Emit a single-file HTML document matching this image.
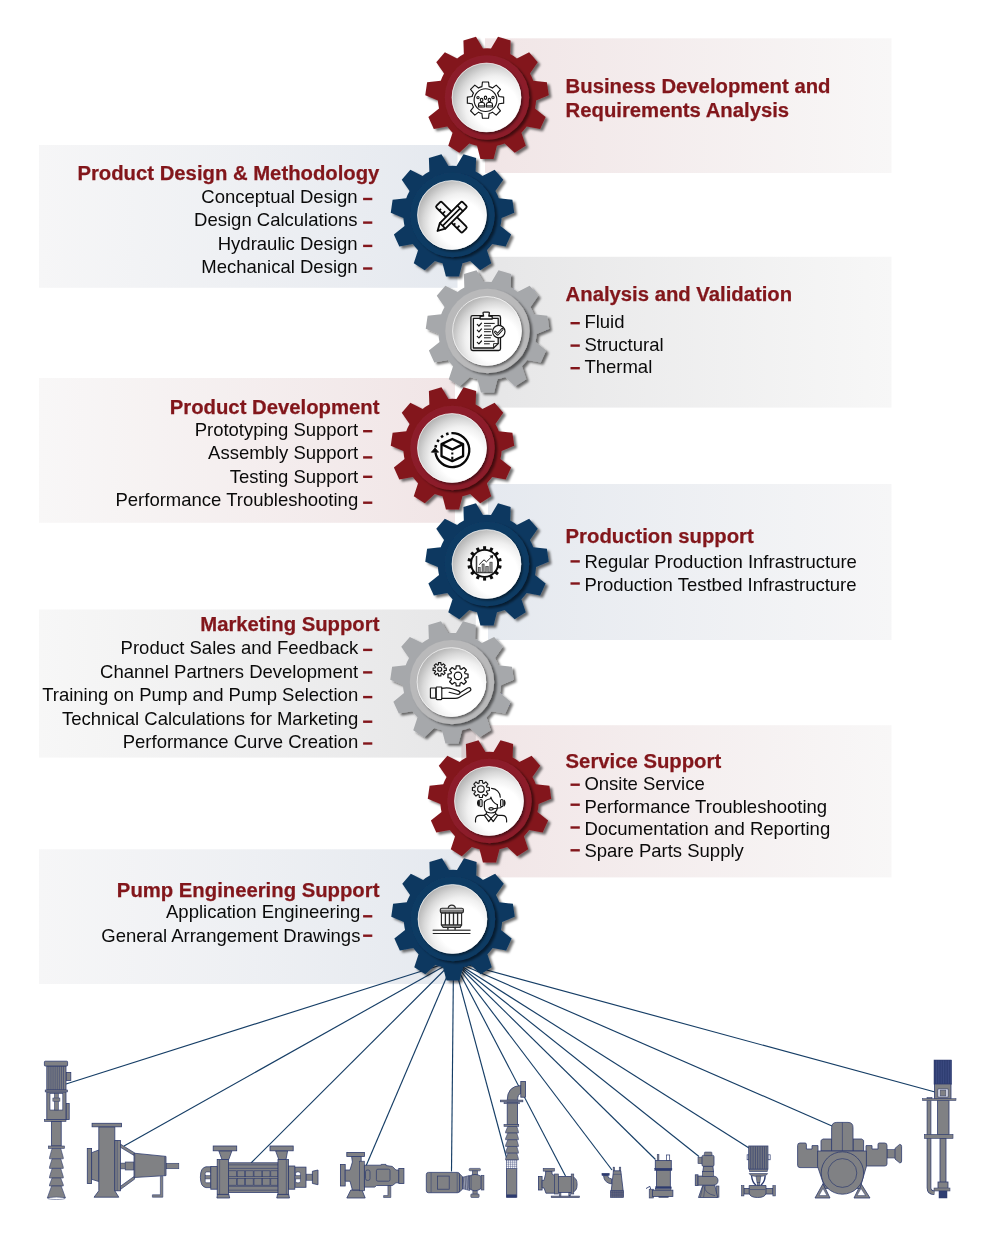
<!DOCTYPE html>
<html lang="en"><head><meta charset="utf-8"><title>Pump Engineering Services</title>
<style>
html,body{margin:0;padding:0;background:#fff;}
body{width:1000px;height:1256px;overflow:hidden;font-family:"Liberation Sans",sans-serif;}
svg{display:block}
.t{font-family:"Liberation Sans",sans-serif;font-weight:bold;font-size:20.3px;fill:#82161b;stroke:#82161b;stroke-width:0.25px}
.i{font-family:"Liberation Sans",sans-serif;font-size:18.5px;fill:#0a0a0a}
.d{fill:#82161b}
</style></head><body>
<svg width="1000" height="1256" viewBox="0 0 1000 1256">
<defs>

<linearGradient id="gRr" x1="0" x2="1" y1="0" y2="0"><stop offset="0" stop-color="#f1e5e6"/><stop offset="1" stop-color="#f8f7f7"/></linearGradient>
<linearGradient id="gLr" x1="0" x2="1" y1="0" y2="0"><stop offset="0" stop-color="#f8f7f7"/><stop offset="1" stop-color="#f1e5e6"/></linearGradient>
<linearGradient id="gRb" x1="0" x2="1" y1="0" y2="0"><stop offset="0" stop-color="#e5e9ef"/><stop offset="1" stop-color="#f6f6f7"/></linearGradient>
<linearGradient id="gLb" x1="0" x2="1" y1="0" y2="0"><stop offset="0" stop-color="#f6f6f7"/><stop offset="1" stop-color="#e5e9ef"/></linearGradient>
<linearGradient id="gRg" x1="0" x2="1" y1="0" y2="0"><stop offset="0" stop-color="#e6e6e7"/><stop offset="1" stop-color="#f7f7f7"/></linearGradient>
<linearGradient id="gLg" x1="0" x2="1" y1="0" y2="0"><stop offset="0" stop-color="#f7f7f7"/><stop offset="1" stop-color="#e6e6e7"/></linearGradient>
<radialGradient id="disc" cx="0.63" cy="0.63" r="0.8" fx="0.63" fy="0.63">
<stop offset="0" stop-color="#ffffff"/><stop offset="0.40" stop-color="#ffffff"/><stop offset="0.55" stop-color="#f0f0f0"/><stop offset="0.68" stop-color="#d8d8d8"/><stop offset="0.8" stop-color="#bcbcbc"/><stop offset="0.9" stop-color="#a9a9a9"/></radialGradient>
<filter id="sh" x="-20%" y="-20%" width="150%" height="150%"><feDropShadow dx="2.7" dy="2.3" stdDeviation="1.0" flood-color="#000" flood-opacity="0.55"/></filter>
<filter id="sh2" x="-20%" y="-20%" width="150%" height="150%"><feDropShadow dx="2.7" dy="2.0" stdDeviation="0.8" flood-color="#000" flood-opacity="0.5"/></filter>
<filter id="sh3" x="-20%" y="-20%" width="150%" height="150%"><feDropShadow dx="1.6" dy="1.8" stdDeviation="1.2" flood-color="#000" flood-opacity="0.5"/></filter>
</defs>

<rect x="485" y="38.3" width="406.5" height="134.7" fill="url(#gRr)" style="mix-blend-mode:multiply"/>
<rect x="39" y="145" width="418.5" height="142.8" fill="url(#gLb)" style="mix-blend-mode:multiply"/>
<rect x="477.6" y="256.8" width="413.9" height="150.8" fill="url(#gRg)" style="mix-blend-mode:multiply"/>
<rect x="39" y="378" width="416" height="144.8" fill="url(#gLr)" style="mix-blend-mode:multiply"/>
<rect x="488" y="484" width="403.5" height="156" fill="url(#gRb)" style="mix-blend-mode:multiply"/>
<rect x="39" y="609.5" width="436.8" height="148.1" fill="url(#gLg)" style="mix-blend-mode:multiply"/>
<rect x="461.4" y="725.2" width="430.1" height="152.2" fill="url(#gRr)" style="mix-blend-mode:multiply"/>
<rect x="39" y="849.3" width="422.2" height="134.7" fill="url(#gLb)" style="mix-blend-mode:multiply"/>
<g stroke="#163e66" stroke-width="1.15" fill="none" stroke-linecap="butt"><path d="M453.5,961 L66,1084"/><path d="M453.5,961 L124,1146"/><path d="M453.5,961 L251,1163"/><path d="M453.5,961 L366,1166"/><path d="M453.5,961 L451.5,1171.5"/><path d="M453.5,961 L507,1159.5"/><path d="M453.5,961 L565.5,1176"/><path d="M453.5,961 L612,1170"/><path d="M453.5,961 L655.5,1159.5"/><path d="M453.5,961 L699,1156.5"/><path d="M453.5,961 L749,1148"/><path d="M453.5,961 L832,1126"/><path d="M453.5,961 L935,1092"/></g>
<g id="pumps"><rect x="66" y="1072.4" width="4.8" height="8" rx="0" fill="#808184" stroke="#2d3b6e" stroke-width="0.8"/><rect x="46.8" y="1066" width="19.2" height="24" rx="0" fill="#808184" stroke="#2d3b6e" stroke-width="0.8"/><path d="M48.88,1066.32 L48.88,1089.68" fill="none" stroke="#2d3b6e" stroke-width="0.6" stroke-linejoin="round"/><path d="M50.96,1066.32 L50.96,1089.68" fill="none" stroke="#2d3b6e" stroke-width="0.6" stroke-linejoin="round"/><path d="M53.04,1066.32 L53.04,1089.68" fill="none" stroke="#2d3b6e" stroke-width="0.6" stroke-linejoin="round"/><path d="M55.12,1066.32 L55.12,1089.68" fill="none" stroke="#2d3b6e" stroke-width="0.6" stroke-linejoin="round"/><path d="M57.2,1066.32 L57.2,1089.68" fill="none" stroke="#2d3b6e" stroke-width="0.6" stroke-linejoin="round"/><path d="M59.28,1066.32 L59.28,1089.68" fill="none" stroke="#2d3b6e" stroke-width="0.6" stroke-linejoin="round"/><path d="M61.36,1066.32 L61.36,1089.68" fill="none" stroke="#2d3b6e" stroke-width="0.6" stroke-linejoin="round"/><path d="M63.44,1066.32 L63.44,1089.68" fill="none" stroke="#2d3b6e" stroke-width="0.6" stroke-linejoin="round"/><rect x="44.4" y="1061.2" width="23.2" height="4.8" rx="0.8" fill="#808184" stroke="#2d3b6e" stroke-width="0.8"/><rect x="66" y="1103.6" width="3.2" height="16" rx="0" fill="#808184" stroke="#2d3b6e" stroke-width="0.8"/><rect x="46.8" y="1091.92" width="19.2" height="27.68" rx="0" fill="#808184" stroke="#2d3b6e" stroke-width="0.8"/><rect x="50" y="1093.52" width="12.8" height="16.48" rx="0" fill="#fff" stroke="#2d3b6e" stroke-width="0.6"/><rect x="54.32" y="1093.52" width="4.16" height="16.48" rx="0" fill="#808184" stroke="#2d3b6e" stroke-width="0.5"/><rect x="52.88" y="1098" width="7.04" height="3.2" rx="0" fill="#808184" stroke="#2d3b6e" stroke-width="0.5"/><rect x="45.2" y="1090" width="22.4" height="1.92" rx="0" fill="#808184" stroke="#2d3b6e" stroke-width="0.6"/><rect x="44.4" y="1119.6" width="21.6" height="1.92" rx="0" fill="#808184" stroke="#2d3b6e" stroke-width="0.6"/><rect x="51.6" y="1121.52" width="9.6" height="24.48" rx="0" fill="#808184" stroke="#2d3b6e" stroke-width="0.8"/><rect x="48.4" y="1146" width="16" height="2.4" rx="0" fill="#808184" stroke="#2d3b6e" stroke-width="0.6"/><path d="M52.08,1148.4 L60.72,1148.4 L63.28,1157.52 L63.28,1158.8 L49.52,1158.8 L49.52,1157.52 Z" fill="#808184" stroke="#2d3b6e" stroke-width="0.6" stroke-linejoin="round"/><path d="M52.08,1158.8 L60.72,1158.8 L63.28,1167.12 L63.28,1168.4 L49.52,1168.4 L49.52,1167.12 Z" fill="#808184" stroke="#2d3b6e" stroke-width="0.6" stroke-linejoin="round"/><path d="M52.08,1168.4 L60.72,1168.4 L63.28,1176.72 L63.28,1178 L49.52,1178 L49.52,1176.72 Z" fill="#808184" stroke="#2d3b6e" stroke-width="0.6" stroke-linejoin="round"/><path d="M52.08,1178 L60.72,1178 L63.28,1184.72 L63.28,1186 L49.52,1186 L49.52,1184.72 Z" fill="#808184" stroke="#2d3b6e" stroke-width="0.6" stroke-linejoin="round"/><path d="M51.6,1186 L61.2,1186 L65.52,1198 L47.28,1198 Z" fill="#808184" stroke="#2d3b6e" stroke-width="0.6" stroke-linejoin="round"/><ellipse cx="56.4" cy="1198.32" rx="8.6" ry="1.2" fill="#fff" stroke="#2d3b6e" stroke-width="0.5"/><path d="M91.6,1152.72 L98.8,1150 L98.8,1181.52 L91.6,1179.28 Z" fill="#808184" stroke="#2d3b6e" stroke-width="0.8" stroke-linejoin="round"/><rect x="87.28" y="1148.4" width="4.32" height="35.2" rx="0" fill="#808184" stroke="#2d3b6e" stroke-width="0.8"/><path d="M120.4,1144.08 L134.8,1153.04 L133.68,1155.28 L120.4,1147.28 Z" fill="#808184" stroke="#2d3b6e" stroke-width="0.7" stroke-linejoin="round"/><path d="M120.4,1189.52 L134.8,1178.96 L133.68,1176.72 L120.4,1186.32 Z" fill="#808184" stroke="#2d3b6e" stroke-width="0.7" stroke-linejoin="round"/><rect x="120.4" y="1163.12" width="13.6" height="5.76" rx="0" fill="#808184" stroke="#2d3b6e" stroke-width="0.6"/><rect x="125.2" y="1162" width="8.8" height="8" rx="0" fill="#808184" stroke="#2d3b6e" stroke-width="0.6"/><path d="M98.8,1126.8 L114.8,1126.8 L114.8,1190.8 L118.8,1197.2 L94,1197.2 L98.8,1190.8 Z" fill="#808184" stroke="#2d3b6e" stroke-width="0.8" stroke-linejoin="round"/><rect x="92.08" y="1123.28" width="29.44" height="3.52" rx="0" fill="#808184" stroke="#2d3b6e" stroke-width="0.8"/><rect x="114.8" y="1140.4" width="5.6" height="50.4" rx="0" fill="#808184" stroke="#2d3b6e" stroke-width="0.8"/><path d="M117.2,1140.4 L117.2,1190.8" fill="none" stroke="#2d3b6e" stroke-width="0.5" stroke-linejoin="round"/><rect x="166" y="1163.28" width="12.8" height="5.44" rx="0" fill="#808184" stroke="#2d3b6e" stroke-width="0.6"/><path d="M134,1153.2 L166,1156.4 L166,1175.6 L134,1177.52 Z" fill="#808184" stroke="#2d3b6e" stroke-width="0.8" stroke-linejoin="round"/><path d="M134.8,1153.36 L134.8,1177.36" fill="none" stroke="#2d3b6e" stroke-width="0.5" stroke-linejoin="round"/><path d="M164.72,1156.24 L164.72,1175.76" fill="none" stroke="#2d3b6e" stroke-width="0.5" stroke-linejoin="round"/><path d="M160.4,1176.4 L162.8,1176.4 L162.8,1197.2 L152.4,1197.2 L152.4,1194.8 L160.4,1194.8 Z" fill="#808184" stroke="#2d3b6e" stroke-width="0.6" stroke-linejoin="round"/><path d="M210.8,1166.8 L206,1166.8 Q200.4,1167.6 200.4,1177.2 Q200.4,1186.8 206,1187.6 L210.8,1187.6 Z " fill="#808184" stroke="#2d3b6e" stroke-width="0.8" stroke-linejoin="round"/><rect x="205.2" y="1171.92" width="5.6" height="10.88" rx="1.5" fill="#fff" stroke="#2d3b6e" stroke-width="0.6"/><rect x="205.2" y="1175.6" width="5.92" height="3.36" rx="0" fill="#808184" stroke="#2d3b6e" stroke-width="0.5"/><rect x="210.8" y="1166.48" width="6.72" height="22.72" rx="0" fill="#808184" stroke="#2d3b6e" stroke-width="0.8"/><rect x="306" y="1174.16" width="6.88" height="6.08" rx="0" fill="#808184" stroke="#2d3b6e" stroke-width="0.6"/><path d="M312.4,1171.28 L318,1170 L318,1184.72 L312.4,1183.44 Z" fill="#808184" stroke="#2d3b6e" stroke-width="0.8" stroke-linejoin="round"/><rect x="294.8" y="1167.12" width="11.2" height="20.16" rx="0" fill="#808184" stroke="#2d3b6e" stroke-width="0.8"/><rect x="295.6" y="1171.92" width="4.8" height="10.88" rx="1.5" fill="#fff" stroke="#2d3b6e" stroke-width="0.6"/><rect x="294.8" y="1175.6" width="5.92" height="3.36" rx="0" fill="#808184" stroke="#2d3b6e" stroke-width="0.5"/><rect x="288.4" y="1166" width="6.4" height="23.2" rx="0" fill="#808184" stroke="#2d3b6e" stroke-width="0.8"/><rect x="228.08" y="1162.8" width="50.24" height="29.6" rx="0" fill="#808184" stroke="#2d3b6e" stroke-width="0.8"/><path d="M228.08,1164.88 L278.32,1164.88" fill="none" stroke="#2d3b6e" stroke-width="0.6" stroke-linejoin="round"/><path d="M228.08,1168.4 L278.32,1168.4" fill="none" stroke="#2d3b6e" stroke-width="0.6" stroke-linejoin="round"/><path d="M228.08,1186.32 L278.32,1186.32" fill="none" stroke="#2d3b6e" stroke-width="0.6" stroke-linejoin="round"/><path d="M228.08,1190.16 L278.32,1190.16" fill="none" stroke="#2d3b6e" stroke-width="0.6" stroke-linejoin="round"/><rect x="228.72" y="1170.8" width="7.68" height="5.92" rx="0" fill="#808184" stroke="#2d3b6e" stroke-width="0.6"/><rect x="237.2" y="1170.8" width="7.52" height="5.92" rx="0" fill="#808184" stroke="#2d3b6e" stroke-width="0.6"/><rect x="245.52" y="1170.8" width="7.68" height="5.92" rx="0" fill="#808184" stroke="#2d3b6e" stroke-width="0.6"/><rect x="254" y="1170.8" width="7.84" height="5.92" rx="0" fill="#808184" stroke="#2d3b6e" stroke-width="0.6"/><rect x="262.64" y="1170.8" width="7.36" height="5.92" rx="0" fill="#808184" stroke="#2d3b6e" stroke-width="0.6"/><rect x="270.8" y="1170.8" width="7.04" height="5.92" rx="0" fill="#808184" stroke="#2d3b6e" stroke-width="0.6"/><rect x="228.72" y="1178.64" width="7.68" height="6.56" rx="0" fill="#808184" stroke="#2d3b6e" stroke-width="0.6"/><rect x="237.2" y="1178.64" width="7.52" height="6.56" rx="0" fill="#808184" stroke="#2d3b6e" stroke-width="0.6"/><rect x="245.52" y="1178.64" width="7.68" height="6.56" rx="0" fill="#808184" stroke="#2d3b6e" stroke-width="0.6"/><rect x="254" y="1178.64" width="7.84" height="6.56" rx="0" fill="#808184" stroke="#2d3b6e" stroke-width="0.6"/><rect x="262.64" y="1178.64" width="7.36" height="6.56" rx="0" fill="#808184" stroke="#2d3b6e" stroke-width="0.6"/><rect x="270.8" y="1178.64" width="7.04" height="6.56" rx="0" fill="#808184" stroke="#2d3b6e" stroke-width="0.6"/><path d="M218.8,1150.8 L231.92,1150.8 L228.72,1159.6 L222,1159.6 Z" fill="#808184" stroke="#2d3b6e" stroke-width="0.8" stroke-linejoin="round"/><path d="M275.6,1150.8 L287.6,1150.8 L286,1159.6 L278.8,1159.6 Z" fill="#808184" stroke="#2d3b6e" stroke-width="0.8" stroke-linejoin="round"/><rect x="213.2" y="1146" width="23.52" height="4.8" rx="0" fill="#808184" stroke="#2d3b6e" stroke-width="0.8"/><rect x="270" y="1146" width="23.2" height="4.8" rx="0" fill="#808184" stroke="#2d3b6e" stroke-width="0.8"/><path d="M217.52,1194 L228.72,1194 L229.68,1198 L216.88,1198 Z" fill="#808184" stroke="#2d3b6e" stroke-width="0.8" stroke-linejoin="round"/><path d="M277.68,1194 L288.56,1194 L289.52,1198 L276.72,1198 Z" fill="#808184" stroke="#2d3b6e" stroke-width="0.8" stroke-linejoin="round"/><rect x="217.2" y="1159.6" width="11.2" height="34.72" rx="0" fill="#808184" stroke="#2d3b6e" stroke-width="0.8"/><rect x="278" y="1159.6" width="10.4" height="34.72" rx="0" fill="#808184" stroke="#2d3b6e" stroke-width="0.8"/><path d="M219.6,1159.92 L219.6,1194" fill="none" stroke="#2d3b6e" stroke-width="0.5" stroke-linejoin="round"/><path d="M286.32,1159.92 L286.32,1194" fill="none" stroke="#2d3b6e" stroke-width="0.5" stroke-linejoin="round"/><rect x="340.4" y="1164.4" width="4.8" height="21.6" rx="0" fill="#808184" stroke="#2d3b6e" stroke-width="0.8"/><path d="M350.8,1190 L362,1190 L365.2,1198 L346.8,1198 Z" fill="#808184" stroke="#2d3b6e" stroke-width="0.8" stroke-linejoin="round"/><path d="M345.2,1170 L350,1170 L352.4,1162 L351.6,1156.4 L361.2,1156.4 L361.2,1162 L364.4,1165.2 L364.4,1190 L352.4,1190 L350,1181.2 L345.2,1181.2 Z" fill="#808184" stroke="#2d3b6e" stroke-width="0.8" stroke-linejoin="round"/><rect x="346.8" y="1152.4" width="17.6" height="4" rx="0" fill="#808184" stroke="#2d3b6e" stroke-width="0.8"/><rect x="359.6" y="1161.2" width="4.8" height="29.6" rx="0" fill="#808184" stroke="#2d3b6e" stroke-width="0.6"/><path d="M387.92,1185.2 L390.8,1185.2 L390.8,1197.52 L383.6,1197.52 L383.6,1195.6 L387.92,1195.6 Z" fill="#808184" stroke="#2d3b6e" stroke-width="0.6" stroke-linejoin="round"/><path d="M364.4,1165.2 L381.2,1165.2 L381.2,1164.4 L386,1164.4 L386,1165.52 L392.4,1166.48 L395.92,1170 L399.12,1170 L399.12,1182.8 L395.92,1182.8 L392.4,1185.52 L376.4,1185.52 L374.8,1187.12 L364.4,1187.12 Z" fill="#808184" stroke="#2d3b6e" stroke-width="0.8" stroke-linejoin="round"/><rect x="365.52" y="1170" width="4.48" height="10.4" rx="1.8" fill="#808184" stroke="#2d3b6e" stroke-width="0.7"/><rect x="376.4" y="1169.2" width="13.6" height="12" rx="1.5" fill="#808184" stroke="#2d3b6e" stroke-width="0.7"/><rect x="398.8" y="1168.4" width="5.12" height="15.2" rx="0" fill="#808184" stroke="#2d3b6e" stroke-width="0.8"/><path d="M462.16,1177.36 L469.84,1175.44 L469.84,1190.48 L462.16,1188.56 Z" fill="#fff" stroke="#2d3b6e" stroke-width="0.6" stroke-linejoin="round"/><path d="M462.8,1177.36 L463.76,1177.2 L464.4,1188.56 L463.44,1188.72 Z" fill="#808184" stroke="#2d3b6e" stroke-width="0.45" stroke-linejoin="round"/><path d="M464.56,1176.88 L465.52,1176.72 L466.16,1189.04 L465.2,1189.2 Z" fill="#808184" stroke="#2d3b6e" stroke-width="0.45" stroke-linejoin="round"/><path d="M466.32,1176.4 L467.28,1176.24 L467.92,1189.52 L466.96,1189.68 Z" fill="#808184" stroke="#2d3b6e" stroke-width="0.45" stroke-linejoin="round"/><path d="M468.08,1175.92 L469.04,1175.76 L469.68,1190 L468.72,1190.16 Z" fill="#808184" stroke="#2d3b6e" stroke-width="0.45" stroke-linejoin="round"/><path d="M459.28,1173.52 L462.48,1176.72 L462.48,1189.2 L459.28,1192.08 Z" fill="#808184" stroke="#2d3b6e" stroke-width="0.8" stroke-linejoin="round"/><rect x="426.32" y="1172.4" width="33.28" height="20.32" rx="2.2" fill="#808184" stroke="#2d3b6e" stroke-width="0.8"/><path d="M431.12,1172.56 L431.12,1192.56" fill="none" stroke="#2d3b6e" stroke-width="0.5" stroke-linejoin="round"/><path d="M457.2,1172.56 L457.2,1192.56" fill="none" stroke="#2d3b6e" stroke-width="0.5" stroke-linejoin="round"/><rect x="437.52" y="1176.08" width="11.68" height="13.12" rx="0" fill="#808184" stroke="#2d3b6e" stroke-width="0.7"/><rect x="472.88" y="1190.8" width="4.32" height="3.52" rx="0" fill="#808184" stroke="#2d3b6e" stroke-width="0.6"/><rect x="470.8" y="1194" width="8.32" height="3.52" rx="0.8" fill="#808184" stroke="#2d3b6e" stroke-width="0.6"/><rect x="472.4" y="1170.48" width="5.12" height="5.92" rx="0" fill="#808184" stroke="#2d3b6e" stroke-width="0.6"/><rect x="469.2" y="1168.4" width="11.2" height="2.4" rx="0.8" fill="#808184" stroke="#2d3b6e" stroke-width="0.6"/><path d="M469.2,1176.4 Q474.8,1172.4 481.2,1176.4 L481.2,1188.4 Q474.8,1193.2 469.2,1188.4 Z " fill="#808184" stroke="#2d3b6e" stroke-width="0.8" stroke-linejoin="round"/><rect x="481.2" y="1175.28" width="2.72" height="14.72" rx="0" fill="#808184" stroke="#2d3b6e" stroke-width="0.6"/><path d="M471.12,1175.12 L471.12,1189.52" fill="none" stroke="#2d3b6e" stroke-width="0.5" stroke-linejoin="round"/><path d="M507.2,1100.4 Q507.2,1086 520.8,1085.52 L520.8,1093.68 Q517.6,1094 517.6,1100.4 Z " fill="#808184" stroke="#2d3b6e" stroke-width="0.8" stroke-linejoin="round"/><rect x="520.8" y="1081.52" width="4.8" height="15.68" rx="0" fill="#808184" stroke="#2d3b6e" stroke-width="0.8"/><rect x="507.2" y="1102" width="10.4" height="22.72" rx="0" fill="#808184" stroke="#2d3b6e" stroke-width="0.8"/><rect x="500.48" y="1100.08" width="22.4" height="1.76" rx="0" fill="#808184" stroke="#2d3b6e" stroke-width="0.6"/><rect x="504" y="1102.48" width="15.68" height="1.28" rx="0" fill="#808184" stroke="#2d3b6e" stroke-width="0.5"/><path d="M507.84,1126.32 L516.8,1126.32 L518.4,1131.76 L518.4,1133.04 L505.6,1133.04 L505.6,1131.76 Z" fill="#808184" stroke="#2d3b6e" stroke-width="0.6" stroke-linejoin="round"/><path d="M507.84,1133.04 L516.8,1133.04 L518.4,1138.48 L518.4,1139.76 L505.6,1139.76 L505.6,1138.48 Z" fill="#808184" stroke="#2d3b6e" stroke-width="0.6" stroke-linejoin="round"/><path d="M507.84,1139.76 L516.8,1139.76 L518.4,1145.2 L518.4,1146.48 L505.6,1146.48 L505.6,1145.2 Z" fill="#808184" stroke="#2d3b6e" stroke-width="0.6" stroke-linejoin="round"/><path d="M507.84,1146.48 L516.8,1146.48 L518.4,1151.92 L518.4,1153.2 L505.6,1153.2 L505.6,1151.92 Z" fill="#808184" stroke="#2d3b6e" stroke-width="0.6" stroke-linejoin="round"/><path d="M507.84,1153.2 L516.8,1153.2 L518.4,1158.64 L518.4,1159.92 L505.6,1159.92 L505.6,1158.64 Z" fill="#808184" stroke="#2d3b6e" stroke-width="0.6" stroke-linejoin="round"/><rect x="504" y="1124.4" width="14.72" height="1.92" rx="0" fill="#808184" stroke="#2d3b6e" stroke-width="0.6"/><rect x="506.4" y="1168.4" width="10.4" height="28.8" rx="0" fill="#808184" stroke="#2d3b6e" stroke-width="0.8"/><rect x="506.4" y="1160.08" width="10.4" height="8.48" rx="0" fill="#fff" stroke="#2d3b6e" stroke-width="0.6"/><path d="M508.48,1160.08 L508.48,1168.56" fill="none" stroke="#2d3b6e" stroke-width="0.4" stroke-linejoin="round"/><path d="M510.56,1160.08 L510.56,1168.56" fill="none" stroke="#2d3b6e" stroke-width="0.4" stroke-linejoin="round"/><path d="M512.64,1160.08 L512.64,1168.56" fill="none" stroke="#2d3b6e" stroke-width="0.4" stroke-linejoin="round"/><path d="M514.72,1160.08 L514.72,1168.56" fill="none" stroke="#2d3b6e" stroke-width="0.4" stroke-linejoin="round"/><path d="M506.4,1162.16 L516.8,1162.16" fill="none" stroke="#2d3b6e" stroke-width="0.4" stroke-linejoin="round"/><path d="M506.4,1164.24 L516.8,1164.24" fill="none" stroke="#2d3b6e" stroke-width="0.4" stroke-linejoin="round"/><path d="M506.4,1166.32 L516.8,1166.32" fill="none" stroke="#2d3b6e" stroke-width="0.4" stroke-linejoin="round"/><rect x="506.88" y="1194.8" width="9.6" height="2.4" rx="0" fill="#2d3b6e" stroke="#2d3b6e" stroke-width="0.4"/><rect x="551.2" y="1196.08" width="28.32" height="1.6" rx="0" fill="#808184" stroke="#2d3b6e" stroke-width="0.6"/><rect x="559.2" y="1192.4" width="1.76" height="3.68" rx="0" fill="#808184" stroke="#2d3b6e" stroke-width="0.5"/><rect x="568.8" y="1192.4" width="1.76" height="3.68" rx="0" fill="#808184" stroke="#2d3b6e" stroke-width="0.5"/><path d="M572,1176.88 Q577.12,1177.52 577.12,1184.4 Q577.12,1191.6 572,1192.08 Z " fill="#808184" stroke="#2d3b6e" stroke-width="0.8" stroke-linejoin="round"/><rect x="558.08" y="1176.4" width="13.92" height="16" rx="0" fill="#808184" stroke="#2d3b6e" stroke-width="0.8"/><rect x="571.2" y="1174" width="2.56" height="20" rx="0" fill="#808184" stroke="#2d3b6e" stroke-width="0.6"/><rect x="538.4" y="1176.4" width="3.68" height="13.6" rx="0" fill="#808184" stroke="#2d3b6e" stroke-width="0.8"/><path d="M542.08,1180.4 L544,1180.4 L545.6,1174 L545.6,1171.12 L552,1171.12 L552,1174 L554.56,1175.6 L554.56,1193.2 L545.92,1193.2 L544,1187.92 L542.08,1187.92 Z" fill="#808184" stroke="#2d3b6e" stroke-width="0.8" stroke-linejoin="round"/><rect x="543.2" y="1168.4" width="11.2" height="2.72" rx="0" fill="#808184" stroke="#2d3b6e" stroke-width="0.6"/><rect x="554.4" y="1174" width="4" height="20" rx="0" fill="#808184" stroke="#2d3b6e" stroke-width="0.6"/><path d="M603.52,1175.6 Q604,1182.8 611.52,1183.92 L611.52,1178.8 Q608,1178.8 607.68,1175.6 Z " fill="#808184" stroke="#2d3b6e" stroke-width="0.8" stroke-linejoin="round"/><rect x="601.92" y="1173.2" width="7.36" height="2.4" rx="0" fill="#2d3b6e" stroke="#2d3b6e" stroke-width="0.4"/><rect x="613.12" y="1167.12" width="1.6" height="4" rx="0" fill="#808184" stroke="#2d3b6e" stroke-width="0.5"/><rect x="619.2" y="1167.12" width="1.6" height="4" rx="0" fill="#808184" stroke="#2d3b6e" stroke-width="0.5"/><path d="M613.44,1170.8 L620.8,1170.8 L623.2,1191.12 L611.2,1191.12 Z" fill="#808184" stroke="#2d3b6e" stroke-width="0.8" stroke-linejoin="round"/><path d="M613.12,1174.32 L621.28,1174.32" fill="none" stroke="#2d3b6e" stroke-width="0.5" stroke-linejoin="round"/><rect x="610.4" y="1190.8" width="13.28" height="6.72" rx="0" fill="#6c6f80" stroke="#2d3b6e" stroke-width="0.6"/><path d="M612.32,1190.8 L612.32,1197.52" fill="none" stroke="#2d3b6e" stroke-width="0.35" stroke-linejoin="round"/><path d="M614.24,1190.8 L614.24,1197.52" fill="none" stroke="#2d3b6e" stroke-width="0.35" stroke-linejoin="round"/><path d="M616.16,1190.8 L616.16,1197.52" fill="none" stroke="#2d3b6e" stroke-width="0.35" stroke-linejoin="round"/><path d="M618.08,1190.8 L618.08,1197.52" fill="none" stroke="#2d3b6e" stroke-width="0.35" stroke-linejoin="round"/><path d="M620,1190.8 L620,1197.52" fill="none" stroke="#2d3b6e" stroke-width="0.35" stroke-linejoin="round"/><path d="M621.92,1190.8 L621.92,1197.52" fill="none" stroke="#2d3b6e" stroke-width="0.35" stroke-linejoin="round"/><path d="M610.4,1192.48 L623.68,1192.48" fill="none" stroke="#2d3b6e" stroke-width="0.35" stroke-linejoin="round"/><path d="M610.4,1194.16 L623.68,1194.16" fill="none" stroke="#2d3b6e" stroke-width="0.35" stroke-linejoin="round"/><path d="M610.4,1195.84 L623.68,1195.84" fill="none" stroke="#2d3b6e" stroke-width="0.35" stroke-linejoin="round"/><rect x="657.2" y="1154.32" width="1.76" height="6.4" rx="0" fill="#808184" stroke="#2d3b6e" stroke-width="0.5"/><rect x="666.48" y="1154.96" width="3.2" height="5.76" rx="0" fill="#fff" stroke="#2d3b6e" stroke-width="0.7"/><path d="M646,1188.56 L649.84,1186.32 L650.8,1189.52" fill="none" stroke="#2d3b6e" stroke-width="0.9" stroke-linejoin="round"/><rect x="649.2" y="1189.2" width="4.16" height="8.8" rx="0" fill="#808184" stroke="#2d3b6e" stroke-width="0.6"/><rect x="658.8" y="1195.92" width="9.6" height="1.76" rx="0" fill="#808184" stroke="#2d3b6e" stroke-width="0.5"/><rect x="656.4" y="1170" width="13.92" height="17.12" rx="0" fill="#808184" stroke="#2d3b6e" stroke-width="0.8"/><rect x="655.28" y="1160.4" width="16" height="8.32" rx="0" fill="#808184" stroke="#2d3b6e" stroke-width="0.8"/><rect x="654.8" y="1168.4" width="17.12" height="2.08" rx="0" fill="#2d3b6e" stroke="#2d3b6e" stroke-width="0.4"/><rect x="655.28" y="1186.8" width="16" height="1.76" rx="0" fill="#2d3b6e" stroke="#2d3b6e" stroke-width="0.4"/><rect x="655.6" y="1188.56" width="15.36" height="1.92" rx="0" fill="#808184" stroke="#2d3b6e" stroke-width="0.5"/><rect x="652.4" y="1190.16" width="20.48" height="6.24" rx="0" fill="#808184" stroke="#2d3b6e" stroke-width="0.8"/><rect x="716.4" y="1186" width="2.56" height="11.2" rx="0" fill="#808184" stroke="#2d3b6e" stroke-width="0.6"/><path d="M702.8,1185.2 L714.8,1185.2 L717.68,1197.52 L698.48,1197.52 Z" fill="#808184" stroke="#2d3b6e" stroke-width="0.8" stroke-linejoin="round"/><path d="M703.92,1186 Q705.2,1194 715.12,1195.6 " fill="none" stroke="#2d3b6e" stroke-width="0.6" stroke-linejoin="round"/><path d="M702.8,1186 L700.4,1197.2" fill="none" stroke="#2d3b6e" stroke-width="0.5" stroke-linejoin="round"/><path d="M705.2,1186 L703.6,1197.2" fill="none" stroke="#2d3b6e" stroke-width="0.5" stroke-linejoin="round"/><rect x="695.28" y="1174.8" width="2.72" height="10.72" rx="0" fill="#808184" stroke="#2d3b6e" stroke-width="0.8"/><path d="M698,1176.08 L713.2,1176.08 Q718,1176.4 718,1180.56 Q718,1184.88 713.2,1185.2 L698,1185.2 Z " fill="#808184" stroke="#2d3b6e" stroke-width="0.8" stroke-linejoin="round"/><path d="M703.6,1166 L712.88,1166 L713.52,1171.92 L702.8,1171.92 Z" fill="#808184" stroke="#2d3b6e" stroke-width="0.8" stroke-linejoin="round"/><rect x="702.32" y="1171.6" width="11.2" height="4.8" rx="0" fill="#808184" stroke="#2d3b6e" stroke-width="0.6"/><rect x="698" y="1157.2" width="4.32" height="6.4" rx="0" fill="#808184" stroke="#2d3b6e" stroke-width="0.6"/><rect x="702" y="1155.28" width="12" height="11.04" rx="1.5" fill="#808184" stroke="#2d3b6e" stroke-width="0.8"/><rect x="704.4" y="1152.08" width="7.52" height="3.52" rx="0.8" fill="#808184" stroke="#2d3b6e" stroke-width="0.6"/><rect x="747.12" y="1154.8" width="1.92" height="4.96" rx="0" fill="#fff" stroke="#2d3b6e" stroke-width="0.7"/><rect x="767.92" y="1154.8" width="2.24" height="4.96" rx="0" fill="#fff" stroke="#2d3b6e" stroke-width="0.7"/><rect x="748.72" y="1146" width="19.2" height="23.2" rx="0" fill="#808184" stroke="#2d3b6e" stroke-width="0.8"/><path d="M750.32,1146.32 L750.32,1168.88" fill="none" stroke="#2d3b6e" stroke-width="0.7" stroke-linejoin="round"/><path d="M752.08,1146.32 L752.08,1168.88" fill="none" stroke="#2d3b6e" stroke-width="0.7" stroke-linejoin="round"/><path d="M753.84,1146.32 L753.84,1168.88" fill="none" stroke="#2d3b6e" stroke-width="0.7" stroke-linejoin="round"/><path d="M755.6,1146.32 L755.6,1168.88" fill="none" stroke="#2d3b6e" stroke-width="0.7" stroke-linejoin="round"/><path d="M757.36,1146.32 L757.36,1168.88" fill="none" stroke="#2d3b6e" stroke-width="0.7" stroke-linejoin="round"/><path d="M759.12,1146.32 L759.12,1168.88" fill="none" stroke="#2d3b6e" stroke-width="0.7" stroke-linejoin="round"/><path d="M760.88,1146.32 L760.88,1168.88" fill="none" stroke="#2d3b6e" stroke-width="0.7" stroke-linejoin="round"/><path d="M762.64,1146.32 L762.64,1168.88" fill="none" stroke="#2d3b6e" stroke-width="0.7" stroke-linejoin="round"/><path d="M764.4,1146.32 L764.4,1168.88" fill="none" stroke="#2d3b6e" stroke-width="0.7" stroke-linejoin="round"/><path d="M766.16,1146.32 L766.16,1168.88" fill="none" stroke="#2d3b6e" stroke-width="0.7" stroke-linejoin="round"/><rect x="749.68" y="1169.2" width="17.6" height="2.4" rx="0" fill="#808184" stroke="#2d3b6e" stroke-width="0.6"/><path d="M749.2,1173.52 L767.6,1173.52 Q766.8,1176.4 758.32,1176.4 Q750,1176.4 749.2,1173.52 Z " fill="#808184" stroke="#2d3b6e" stroke-width="0.6" stroke-linejoin="round"/><path d="M751.6,1175.6 Q751.92,1182 756.08,1185.2 " fill="none" stroke="#2d3b6e" stroke-width="1.3" stroke-linejoin="round"/><path d="M765.2,1175.6 Q764.88,1182 760.88,1185.2 " fill="none" stroke="#2d3b6e" stroke-width="1.3" stroke-linejoin="round"/><path d="M756.08,1176.08 L760.72,1176.08 L759.92,1182.8 L757.04,1182.8 Z" fill="#808184" stroke="#2d3b6e" stroke-width="0.6" stroke-linejoin="round"/><rect x="757.2" y="1182.48" width="2.56" height="3.2" rx="0" fill="#808184" stroke="#2d3b6e" stroke-width="0.5"/><rect x="743.92" y="1188.4" width="28.96" height="5.6" rx="0" fill="#808184" stroke="#2d3b6e" stroke-width="0.8"/><path d="M749.2,1185.52 L766,1185.52 L766,1193.2 Q765.2,1197.52 757.68,1197.52 Q750,1197.52 749.2,1193.2 Z " fill="#808184" stroke="#2d3b6e" stroke-width="0.8" stroke-linejoin="round"/><path d="M750,1189.52 L765.2,1189.52" fill="none" stroke="#2d3b6e" stroke-width="0.5" stroke-linejoin="round"/><rect x="741.52" y="1185.68" width="2.4" height="10.24" rx="0" fill="#808184" stroke="#2d3b6e" stroke-width="0.6"/><rect x="772.88" y="1185.68" width="2.4" height="10.24" rx="0" fill="#808184" stroke="#2d3b6e" stroke-width="0.6"/><path d="M815,1198 L823,1183.6 L830,1198 Z" fill="#808184" stroke="#2d3b6e" stroke-width="0.8" stroke-linejoin="round"/><path d="M819,1195.6 L823,1188.4 L827,1195.6 Z" fill="#fff" stroke="#2d3b6e" stroke-width="0.5" stroke-linejoin="round"/><path d="M854,1198 L861,1183.6 L870,1198 Z" fill="#808184" stroke="#2d3b6e" stroke-width="0.8" stroke-linejoin="round"/><path d="M857,1195.6 L861,1188.4 L865.6,1195.6 Z" fill="#fff" stroke="#2d3b6e" stroke-width="0.5" stroke-linejoin="round"/><rect x="887" y="1149.6" width="8.6" height="8.4" rx="0" fill="#808184" stroke="#2d3b6e" stroke-width="0.6"/><path d="M895,1148.4 L899.6,1144.4 Q901.6,1144.4 901.6,1146.4 L901.6,1161 Q901.6,1163.2 899.6,1162.8 L895,1159 Z " fill="#808184" stroke="#2d3b6e" stroke-width="0.8" stroke-linejoin="round"/><path d="M800,1143 L805,1143 Q806.4,1143 806.4,1144.4 L806.4,1149 L812,1149 L812,1145.6 L818,1145.6 L818,1167.6 L800,1167.6 Q797.6,1167.6 797.6,1165.2 L797.6,1145.4 Q797.6,1143 800,1143 Z " fill="#808184" stroke="#2d3b6e" stroke-width="0.8" stroke-linejoin="round"/><path d="M866,1145.6 L872,1145.6 L872,1149 L878,1149 L878,1144.4 Q878,1143 879.4,1143 L884.6,1143 Q887,1143 887,1145.4 L887,1164 Q887,1166 884.6,1166 L866,1166 Z " fill="#808184" stroke="#2d3b6e" stroke-width="0.8" stroke-linejoin="round"/><path d="M821,1151 L821,1140.4 L823,1139 L831.6,1139 L831.6,1151 Z" fill="#808184" stroke="#2d3b6e" stroke-width="0.8" stroke-linejoin="round"/><path d="M853,1151 L853,1139 L861.6,1139 L863.6,1140.4 L863.6,1151 Z" fill="#808184" stroke="#2d3b6e" stroke-width="0.8" stroke-linejoin="round"/><path d="M831.6,1151 L831.6,1127.6 Q831.6,1122.4 836.8,1122.4 L848,1122.4 Q853,1122.4 853,1127.6 L853,1151 Z " fill="#808184" stroke="#2d3b6e" stroke-width="0.8" stroke-linejoin="round"/><path d="M842.4,1122.4 L842.4,1151" fill="none" stroke="#2d3b6e" stroke-width="0.6" stroke-linejoin="round"/><path d="M817.6,1151 L866.4,1151 L866.4,1166.4 L860,1188.4 L825,1188.4 L817.6,1166.4 Z" fill="#808184" stroke="#2d3b6e" stroke-width="0.8" stroke-linejoin="round"/><circle cx="842.4" cy="1173" r="21.2" fill="#808184" stroke="#2d3b6e" stroke-width="0.8"/><circle cx="842.4" cy="1173" r="14.4" fill="#808184" stroke="#2d3b6e" stroke-width="0.7"/><path d="M929,1100.4 L929,1188 Q929,1192.4 934.4,1192.8 " fill="none" stroke="#2d3b6e" stroke-width="4.6" stroke-linejoin="round"/><path d="M929,1100.4 L929,1188 Q929,1192.4 934.4,1192.8 " fill="none" stroke="#808184" stroke-width="3.2" stroke-linejoin="round"/><rect x="927" y="1097.4" width="5" height="1.8" rx="0" fill="#808184" stroke="#2d3b6e" stroke-width="0.5"/><rect x="934" y="1060" width="17.6" height="24.4" rx="0" fill="#2f3e72" stroke="#2d3b6e" stroke-width="0.5"/><path d="M936.4,1060.4 L936.4,1084" fill="none" stroke="#4a5990" stroke-width="0.5" stroke-linejoin="round"/><path d="M938.8,1060.4 L938.8,1084" fill="none" stroke="#4a5990" stroke-width="0.5" stroke-linejoin="round"/><path d="M941.2,1060.4 L941.2,1084" fill="none" stroke="#4a5990" stroke-width="0.5" stroke-linejoin="round"/><path d="M943.6,1060.4 L943.6,1084" fill="none" stroke="#4a5990" stroke-width="0.5" stroke-linejoin="round"/><path d="M946,1060.4 L946,1084" fill="none" stroke="#4a5990" stroke-width="0.5" stroke-linejoin="round"/><path d="M948.4,1060.4 L948.4,1084" fill="none" stroke="#4a5990" stroke-width="0.5" stroke-linejoin="round"/><path d="M950.8,1060.4 L950.8,1084" fill="none" stroke="#4a5990" stroke-width="0.5" stroke-linejoin="round"/><rect x="934.4" y="1084" width="16.6" height="15" rx="0" fill="#808184" stroke="#2d3b6e" stroke-width="0.8"/><rect x="938" y="1089" width="10" height="8" rx="0" fill="#fff" stroke="#2d3b6e" stroke-width="0.6"/><rect x="940" y="1090" width="6" height="6" rx="0" fill="#808184" stroke="#2d3b6e" stroke-width="0.5"/><rect x="937.6" y="1100.6" width="11.4" height="33.8" rx="0" fill="#808184" stroke="#2d3b6e" stroke-width="0.8"/><rect x="922.4" y="1098.6" width="33.6" height="2" rx="0" fill="#808184" stroke="#2d3b6e" stroke-width="0.5"/><rect x="940" y="1138.4" width="6" height="44" rx="0" fill="#808184" stroke="#2d3b6e" stroke-width="0.8"/><rect x="924.4" y="1134.4" width="28.6" height="4" rx="0" fill="#808184" stroke="#2d3b6e" stroke-width="0.6"/><rect x="938" y="1182" width="10" height="8" rx="0" fill="#808184" stroke="#2d3b6e" stroke-width="0.8"/><rect x="934" y="1188" width="16" height="3" rx="0" fill="#808184" stroke="#2d3b6e" stroke-width="0.5"/><rect x="939" y="1191" width="8" height="7" rx="0" fill="#2f3e72" stroke="#2d3b6e" stroke-width="0.5"/></g>
<g id="gear1">
<path d="M496.98,145.68 L493.57,158.95 L480.43,158.95 L477.02,145.68 A49.20,49.20 0 0 1 469.35,143.42 L459.30,152.75 L448.25,145.64 L452.56,132.64 A49.20,49.20 0 0 1 447.32,126.59 L433.83,129.00 L428.37,117.05 L439.03,108.44 A49.20,49.20 0 0 1 437.89,100.52 L425.24,95.26 L427.11,82.25 L440.73,80.77 A49.20,49.20 0 0 1 444.06,73.49 L436.26,62.22 L444.86,52.30 L457.12,58.41 A49.20,49.20 0 0 1 463.85,54.08 L463.39,40.39 L475.99,36.69 L483.00,48.46 A49.20,49.20 0 0 1 491.00,48.46 L498.01,36.69 L510.61,40.39 L510.15,54.08 A49.20,49.20 0 0 1 516.88,58.41 L529.14,52.30 L537.74,62.22 L529.94,73.49 A49.20,49.20 0 0 1 533.27,80.77 L546.89,82.25 L548.76,95.26 L536.11,100.52 A49.20,49.20 0 0 1 534.97,108.44 L545.63,117.05 L540.17,129.00 L526.68,126.59 A49.20,49.20 0 0 1 521.44,132.64 L525.75,145.64 L514.70,152.75 L504.65,143.42 A49.20,49.20 0 0 1 496.98,145.68 Z" fill="#83181e" filter="url(#sh)"/>
<circle cx="487" cy="97.5" r="42.2" fill="#8c1f2a" filter="url(#sh2)"/>
<circle cx="486.5" cy="97.5" r="34.6" fill="url(#disc)" filter="url(#sh3)"/>
<circle cx="486.5" cy="97.5" r="34.4" fill="none" stroke="#fff" stroke-opacity="0.85" stroke-width="0.8"/>
<g transform="translate(486.5,97.5)"><g fill="none" stroke="#161616" stroke-width="1.15" stroke-linejoin="round" transform="translate(-1,2.6)"><path d="M-3.60,-13.43 L-3.04,-18.15 L3.04,-18.15 L3.60,-13.43 A13.90,13.90 0 0 1 6.95,-12.04 L10.68,-14.98 L14.98,-10.68 L12.04,-6.95 A13.90,13.90 0 0 1 13.43,-3.60 L18.15,-3.04 L18.15,3.04 L13.43,3.60 A13.90,13.90 0 0 1 12.04,6.95 L14.98,10.68 L10.68,14.98 L6.95,12.04 A13.90,13.90 0 0 1 3.60,13.43 L3.04,18.15 L-3.04,18.15 L-3.60,13.43 A13.90,13.90 0 0 1 -6.95,12.04 L-10.68,14.98 L-14.98,10.68 L-12.04,6.95 A13.90,13.90 0 0 1 -13.43,3.60 L-18.15,3.04 L-18.15,-3.04 L-13.43,-3.60 A13.90,13.90 0 0 1 -12.04,-6.95 L-14.98,-10.68 L-10.68,-14.98 L-6.95,-12.04 A13.90,13.90 0 0 1 -3.60,-13.43 Z"/><circle r="11.4"/><ellipse cx="-3.9" cy="-0.2" rx="1.3" ry="1.6"/><path d="M-0.9,6.9 L-0.9,4.6 Q-0.9,2.6 -2.6,2.4 L-5.3,2.4 Q-7,2.6 -7,4.6 L-7,6.9 Z"/><path d="M-0.9,5.6 L-7,5.6" stroke-width="0.8"/><ellipse cx="3.9" cy="-0.2" rx="1.3" ry="1.6"/><path d="M0.9,6.9 L0.9,4.6 Q0.9,2.6 2.6,2.4 L5.3,2.4 Q7,2.6 7,4.6 L7,6.9 Z"/><path d="M0.9,5.6 L7,5.6" stroke-width="0.8"/><circle cx="-7.5" cy="-2.5" r="1.15"/><circle cx="7.5" cy="-2.7" r="1.15"/><ellipse cx="0" cy="-2.4" rx="1.2" ry="1.6"/></g></g>
</g>
<g id="gear2">
<path d="M462.48,263.18 L459.07,276.45 L445.93,276.45 L442.52,263.18 A49.20,49.20 0 0 1 434.85,260.92 L424.80,270.25 L413.75,263.14 L418.06,250.14 A49.20,49.20 0 0 1 412.82,244.09 L399.33,246.50 L393.87,234.55 L404.53,225.94 A49.20,49.20 0 0 1 403.39,218.02 L390.74,212.76 L392.61,199.75 L406.23,198.27 A49.20,49.20 0 0 1 409.56,190.99 L401.76,179.72 L410.36,169.80 L422.62,175.91 A49.20,49.20 0 0 1 429.35,171.58 L428.89,157.89 L441.49,154.19 L448.50,165.96 A49.20,49.20 0 0 1 456.50,165.96 L463.51,154.19 L476.11,157.89 L475.65,171.58 A49.20,49.20 0 0 1 482.38,175.91 L494.64,169.80 L503.24,179.72 L495.44,190.99 A49.20,49.20 0 0 1 498.77,198.27 L512.39,199.75 L514.26,212.76 L501.61,218.02 A49.20,49.20 0 0 1 500.47,225.94 L511.13,234.55 L505.67,246.50 L492.18,244.09 A49.20,49.20 0 0 1 486.94,250.14 L491.25,263.14 L480.20,270.25 L470.15,260.92 A49.20,49.20 0 0 1 462.48,263.18 Z" fill="#0f3960" filter="url(#sh)"/>
<circle cx="452.5" cy="215" r="42.2" fill="#0f3b64" filter="url(#sh2)"/>
<circle cx="452" cy="215" r="34.6" fill="url(#disc)" filter="url(#sh3)"/>
<circle cx="452" cy="215" r="34.4" fill="none" stroke="#fff" stroke-opacity="0.85" stroke-width="0.8"/>
<g transform="translate(452,215)"><g transform="translate(-0.6,2.1)" stroke="#0a0a0a" stroke-width="1.85" stroke-linejoin="round" stroke-linecap="round"><g transform="rotate(45)"><rect x="-18.6" y="-3.9" width="37.2" height="7.8" rx="1.6" fill="#f7f7f7"/><path d="M-13.2,3.9 L-13.2,1.6" fill="none" stroke-width="1.7" stroke-linecap="butt"/><path d="M-8.6,3.9 L-8.6,0.3" fill="none" stroke-width="1.7" stroke-linecap="butt"/><path d="M7.2,3.9 L7.2,1.6" fill="none" stroke-width="1.7" stroke-linecap="butt"/><path d="M11.8,3.9 L11.8,0.3" fill="none" stroke-width="1.7" stroke-linecap="butt"/></g><g transform="rotate(135)"><path d="M-18.6,-2.3 Q-18.6,-3.9 -17,-3.9 L12.4,-3.9 L19.6,0 L12.4,3.9 L-17,3.9 Q-18.6,3.9 -18.6,2.3 Z" fill="#fbfbfb"/><path d="M12.4,-3.9 L12.4,3.9 M-12.4,-3.9 L-12.4,3.9 M-12.4,0 L12.4,0" fill="none" stroke-width="1.6"/></g></g></g>
</g>
<g id="gear3">
<path d="M497.48,379.18 L494.07,392.45 L480.93,392.45 L477.52,379.18 A49.20,49.20 0 0 1 469.85,376.92 L459.80,386.25 L448.75,379.14 L453.06,366.14 A49.20,49.20 0 0 1 447.82,360.09 L434.33,362.50 L428.87,350.55 L439.53,341.94 A49.20,49.20 0 0 1 438.39,334.02 L425.74,328.76 L427.61,315.75 L441.23,314.27 A49.20,49.20 0 0 1 444.56,306.99 L436.76,295.72 L445.36,285.80 L457.62,291.91 A49.20,49.20 0 0 1 464.35,287.58 L463.89,273.89 L476.49,270.19 L483.50,281.96 A49.20,49.20 0 0 1 491.50,281.96 L498.51,270.19 L511.11,273.89 L510.65,287.58 A49.20,49.20 0 0 1 517.38,291.91 L529.64,285.80 L538.24,295.72 L530.44,306.99 A49.20,49.20 0 0 1 533.77,314.27 L547.39,315.75 L549.26,328.76 L536.61,334.02 A49.20,49.20 0 0 1 535.47,341.94 L546.13,350.55 L540.67,362.50 L527.18,360.09 A49.20,49.20 0 0 1 521.94,366.14 L526.25,379.14 L515.20,386.25 L505.15,376.92 A49.20,49.20 0 0 1 497.48,379.18 Z" fill="#a6a8ab" filter="url(#sh)"/>
<circle cx="487.5" cy="331" r="42.2" fill="#b9b9ba" filter="url(#sh2)"/>
<circle cx="487" cy="331" r="34.6" fill="url(#disc)" filter="url(#sh3)"/>
<circle cx="487" cy="331" r="34.4" fill="none" stroke="#fff" stroke-opacity="0.85" stroke-width="0.8"/>
<g transform="translate(487,331)"><g fill="none" stroke="#161616" stroke-width="1.3" stroke-linejoin="round" stroke-linecap="round"><rect x="-16.1" y="-15.3" width="29.6" height="34.8" rx="1.8" fill="#f3f3f3"/><path d="M-13.6,-12.6 L11.2,-12.6 L11.2,12.6 L6.6,17 L-13.6,17 Z" fill="#fcfcfc"/><path d="M6.6,17 L6.6,12.6 L11.2,12.6" stroke-width="0.9"/><path d="M-6.9,-12 L-6.9,-14.6 L-3.4,-14.9 L-3.9,-17.6 Q-4.2,-18.9 -2.8,-18.9 L1.3,-18.9 Q2.6,-18.9 2.3,-17.6 L1.8,-14.9 L5.2,-14.6 L5.2,-12 Z" fill="#fcfcfc"/><path d="M-9.7,-6.6 L-8.1,-5 L-5.5,-7.9" stroke-width="1.2"/><path d="M-2.6,-7.6 L7.3,-7.6 M-2.6,-5.1 L3.5,-5.1" stroke-width="1.0"/><path d="M-9.7,-0.8 L-8.1,0.8 L-5.5,-2.1" stroke-width="1.2"/><path d="M-2.6,-1.8 L4.5,-1.8 M-2.6,0.7 L3.5,0.7" stroke-width="1.0"/><path d="M-9.7,5.3 L-8.1,6.9 L-5.5,4" stroke-width="1.2"/><path d="M-2.6,4.3 L4.5,4.3 M-2.6,6.8 L3.5,6.8" stroke-width="1.0"/><path d="M-9.7,11.3 L-8.1,12.9 L-5.5,10" stroke-width="1.2"/><path d="M-2.6,10.3 L7.3,10.3 M-2.6,12.8 L2.4,12.8" stroke-width="1.0"/><circle cx="11.8" cy="0.6" r="6.2" fill="#fdfdfd" stroke-width="1.25"/><path d="M8.2,0.9 L10.6,3.3 L15.3,-1.8" stroke-width="2.6"/><path d="M8.2,0.9 L10.6,3.3 L15.3,-1.8" stroke="#fdfdfd" stroke-width="0.9"/></g></g>
</g>
<g id="gear4">
<path d="M462.48,496.18 L459.07,509.45 L445.93,509.45 L442.52,496.18 A49.20,49.20 0 0 1 434.85,493.92 L424.80,503.25 L413.75,496.14 L418.06,483.14 A49.20,49.20 0 0 1 412.82,477.09 L399.33,479.50 L393.87,467.55 L404.53,458.94 A49.20,49.20 0 0 1 403.39,451.02 L390.74,445.76 L392.61,432.75 L406.23,431.27 A49.20,49.20 0 0 1 409.56,423.99 L401.76,412.72 L410.36,402.80 L422.62,408.91 A49.20,49.20 0 0 1 429.35,404.58 L428.89,390.89 L441.49,387.19 L448.50,398.96 A49.20,49.20 0 0 1 456.50,398.96 L463.51,387.19 L476.11,390.89 L475.65,404.58 A49.20,49.20 0 0 1 482.38,408.91 L494.64,402.80 L503.24,412.72 L495.44,423.99 A49.20,49.20 0 0 1 498.77,431.27 L512.39,432.75 L514.26,445.76 L501.61,451.02 A49.20,49.20 0 0 1 500.47,458.94 L511.13,467.55 L505.67,479.50 L492.18,477.09 A49.20,49.20 0 0 1 486.94,483.14 L491.25,496.14 L480.20,503.25 L470.15,493.92 A49.20,49.20 0 0 1 462.48,496.18 Z" fill="#83181e" filter="url(#sh)"/>
<circle cx="452.5" cy="448" r="42.2" fill="#8c1f2a" filter="url(#sh2)"/>
<circle cx="452" cy="448" r="34.6" fill="url(#disc)" filter="url(#sh3)"/>
<circle cx="452" cy="448" r="34.4" fill="none" stroke="#fff" stroke-opacity="0.85" stroke-width="0.8"/>
<g transform="translate(452,448)"><g transform="translate(0.3,2.1)" fill="none" stroke="#080808" stroke-width="2.3" stroke-linejoin="round"><path d="M-0.89,-16.98 A17,17 0 1 1 -16.83,2.37"/><path d="M-17.3,-2.2 L-20.9,2.1 L-13.7,2.1 Z" fill="#080808" stroke-width="0.8"/><rect x="-17.81" y="-5.07" width="2.5" height="2.5" fill="#080808" stroke="none" transform="rotate(283 -16.56 -3.82)"/><rect x="-15.51" y="-10.51" width="2.5" height="2.5" fill="#080808" stroke="none" transform="rotate(303 -14.26 -9.26)"/><rect x="-11.48" y="-14.83" width="2.5" height="2.5" fill="#080808" stroke="none" transform="rotate(323 -10.23 -13.58)"/><rect x="-6.22" y="-17.51" width="2.5" height="2.5" fill="#080808" stroke="none" transform="rotate(343 -4.97 -16.26)"/><path d="M0,-11.1 L10.8,-6 L10.8,6 L0,11.1 L-10.8,6 L-10.8,-6 Z"/><path d="M-10.8,-6 L0,-0.6 L10.8,-6"/><path d="M0,2.4 L0,4.4 M0,6.6 L0,9.6" stroke-width="2.1"/></g></g>
</g>
<g id="gear5">
<path d="M496.98,612.18 L493.57,625.45 L480.43,625.45 L477.02,612.18 A49.20,49.20 0 0 1 469.35,609.92 L459.30,619.25 L448.25,612.14 L452.56,599.14 A49.20,49.20 0 0 1 447.32,593.09 L433.83,595.50 L428.37,583.55 L439.03,574.94 A49.20,49.20 0 0 1 437.89,567.02 L425.24,561.76 L427.11,548.75 L440.73,547.27 A49.20,49.20 0 0 1 444.06,539.99 L436.26,528.72 L444.86,518.80 L457.12,524.91 A49.20,49.20 0 0 1 463.85,520.58 L463.39,506.89 L475.99,503.19 L483.00,514.96 A49.20,49.20 0 0 1 491.00,514.96 L498.01,503.19 L510.61,506.89 L510.15,520.58 A49.20,49.20 0 0 1 516.88,524.91 L529.14,518.80 L537.74,528.72 L529.94,539.99 A49.20,49.20 0 0 1 533.27,547.27 L546.89,548.75 L548.76,561.76 L536.11,567.02 A49.20,49.20 0 0 1 534.97,574.94 L545.63,583.55 L540.17,595.50 L526.68,593.09 A49.20,49.20 0 0 1 521.44,599.14 L525.75,612.14 L514.70,619.25 L504.65,609.92 A49.20,49.20 0 0 1 496.98,612.18 Z" fill="#0f3960" filter="url(#sh)"/>
<circle cx="487" cy="564" r="42.2" fill="#0f3b64" filter="url(#sh2)"/>
<circle cx="486.5" cy="564" r="34.6" fill="url(#disc)" filter="url(#sh3)"/>
<circle cx="486.5" cy="564" r="34.4" fill="none" stroke="#fff" stroke-opacity="0.85" stroke-width="0.8"/>
<g transform="translate(486.5,564)"><g transform="translate(-1.9,-0.6)" fill="none" stroke="#0a0a0a"><circle r="13.5" stroke-width="1.9"/><rect x="-1.5" y="-17.2" width="3" height="3.4" fill="#0a0a0a" stroke="none" transform="rotate(0.00)"/><rect x="-1.5" y="-17.2" width="3" height="3.4" fill="#0a0a0a" stroke="none" transform="rotate(25.71)"/><rect x="-1.5" y="-17.2" width="3" height="3.4" fill="#0a0a0a" stroke="none" transform="rotate(51.43)"/><rect x="-1.5" y="-17.2" width="3" height="3.4" fill="#0a0a0a" stroke="none" transform="rotate(77.14)"/><rect x="-1.5" y="-17.2" width="3" height="3.4" fill="#0a0a0a" stroke="none" transform="rotate(102.86)"/><rect x="-1.5" y="-17.2" width="3" height="3.4" fill="#0a0a0a" stroke="none" transform="rotate(128.57)"/><rect x="-1.5" y="-17.2" width="3" height="3.4" fill="#0a0a0a" stroke="none" transform="rotate(154.29)"/><rect x="-1.5" y="-17.2" width="3" height="3.4" fill="#0a0a0a" stroke="none" transform="rotate(180.00)"/><rect x="-1.5" y="-17.2" width="3" height="3.4" fill="#0a0a0a" stroke="none" transform="rotate(205.71)"/><rect x="-1.5" y="-17.2" width="3" height="3.4" fill="#0a0a0a" stroke="none" transform="rotate(231.43)"/><rect x="-1.5" y="-17.2" width="3" height="3.4" fill="#0a0a0a" stroke="none" transform="rotate(257.14)"/><rect x="-1.5" y="-17.2" width="3" height="3.4" fill="#0a0a0a" stroke="none" transform="rotate(282.86)"/><rect x="-1.5" y="-17.2" width="3" height="3.4" fill="#0a0a0a" stroke="none" transform="rotate(308.57)"/><rect x="-1.5" y="-17.2" width="3" height="3.4" fill="#0a0a0a" stroke="none" transform="rotate(334.29)"/><path d="M-8.1,-7.3 L-8.1,9 L8.1,9" stroke="#3a3a3a" stroke-width="1.5"/><rect x="-6.1" y="4.2" width="1.7" height="4.8" fill="#9a9a9a" stroke="#3a3a3a" stroke-width="0.7"/><rect x="-2.5" y="0.6" width="2" height="8.4" fill="#9a9a9a" stroke="#3a3a3a" stroke-width="0.7"/><rect x="1.2" y="3" width="2.4" height="6" fill="#9a9a9a" stroke="#3a3a3a" stroke-width="0.7"/><rect x="5.3" y="-1.2" width="2.2" height="10.2" fill="#9a9a9a" stroke="#3a3a3a" stroke-width="0.7"/><path d="M-5.4,1.2 L-0.6,-3.6 L1.8,-1.5 L7.2,-6.9" stroke="#111" stroke-width="0.95"/><path d="M8.7,-8.5 L4.9,-7.6 L7.9,-4.6 Z" fill="#111" stroke="none"/></g></g>
</g>
<g id="gear6">
<path d="M461.98,730.28 L458.57,743.55 L445.43,743.55 L442.02,730.28 A49.20,49.20 0 0 1 434.35,728.02 L424.30,737.35 L413.25,730.24 L417.56,717.24 A49.20,49.20 0 0 1 412.32,711.19 L398.83,713.60 L393.37,701.65 L404.03,693.04 A49.20,49.20 0 0 1 402.89,685.12 L390.24,679.86 L392.11,666.85 L405.73,665.37 A49.20,49.20 0 0 1 409.06,658.09 L401.26,646.82 L409.86,636.90 L422.12,643.01 A49.20,49.20 0 0 1 428.85,638.68 L428.39,624.99 L440.99,621.29 L448.00,633.06 A49.20,49.20 0 0 1 456.00,633.06 L463.01,621.29 L475.61,624.99 L475.15,638.68 A49.20,49.20 0 0 1 481.88,643.01 L494.14,636.90 L502.74,646.82 L494.94,658.09 A49.20,49.20 0 0 1 498.27,665.37 L511.89,666.85 L513.76,679.86 L501.11,685.12 A49.20,49.20 0 0 1 499.97,693.04 L510.63,701.65 L505.17,713.60 L491.68,711.19 A49.20,49.20 0 0 1 486.44,717.24 L490.75,730.24 L479.70,737.35 L469.65,728.02 A49.20,49.20 0 0 1 461.98,730.28 Z" fill="#a6a8ab" filter="url(#sh)"/>
<circle cx="452" cy="682.1" r="42.2" fill="#b9b9ba" filter="url(#sh2)"/>
<circle cx="451.5" cy="682.1" r="34.6" fill="url(#disc)" filter="url(#sh3)"/>
<circle cx="451.5" cy="682.1" r="34.4" fill="none" stroke="#fff" stroke-opacity="0.85" stroke-width="0.8"/>
<g transform="translate(451.5,682.1)"><g fill="none" stroke="#161616" stroke-width="1.15" stroke-linejoin="round" stroke-linecap="round"><path d="M-13.17,-17.29 L-12.96,-19.40 L-10.64,-19.40 L-10.43,-17.29 A4.70,4.70 0 0 1 -9.59,-16.95 L-7.96,-18.29 L-6.31,-16.64 L-7.65,-15.01 A4.70,4.70 0 0 1 -7.31,-14.17 L-5.20,-13.96 L-5.20,-11.64 L-7.31,-11.43 A4.70,4.70 0 0 1 -7.65,-10.59 L-6.31,-8.96 L-7.96,-7.31 L-9.59,-8.65 A4.70,4.70 0 0 1 -10.43,-8.31 L-10.64,-6.20 L-12.96,-6.20 L-13.17,-8.31 A4.70,4.70 0 0 1 -14.01,-8.65 L-15.64,-7.31 L-17.29,-8.96 L-15.95,-10.59 A4.70,4.70 0 0 1 -16.29,-11.43 L-18.40,-11.64 L-18.40,-13.96 L-16.29,-14.17 A4.70,4.70 0 0 1 -15.95,-15.01 L-17.29,-16.64 L-15.64,-18.29 L-14.01,-16.95 A4.70,4.70 0 0 1 -13.17,-17.29 Z"/><circle cx="-11.8" cy="-12.8" r="2.0"/><path d="M4.34,-13.28 L4.73,-16.25 L8.27,-16.25 L8.66,-13.28 A7.40,7.40 0 0 1 9.97,-12.73 L12.35,-14.56 L14.86,-12.05 L13.03,-9.67 A7.40,7.40 0 0 1 13.58,-8.36 L16.55,-7.97 L16.55,-4.43 L13.58,-4.04 A7.40,7.40 0 0 1 13.03,-2.73 L14.86,-0.35 L12.35,2.16 L9.97,0.33 A7.40,7.40 0 0 1 8.66,0.88 L8.27,3.85 L4.73,3.85 L4.34,0.88 A7.40,7.40 0 0 1 3.03,0.33 L0.65,2.16 L-1.86,-0.35 L-0.03,-2.73 A7.40,7.40 0 0 1 -0.58,-4.04 L-3.55,-4.43 L-3.55,-7.97 L-0.58,-8.36 A7.40,7.40 0 0 1 -0.03,-9.67 L-1.86,-12.05 L0.65,-14.56 L3.03,-12.73 A7.40,7.40 0 0 1 4.34,-13.28 Z" stroke-width="1.25"/><circle cx="6.5" cy="-6.2" r="3.7" stroke-width="1.25"/><rect x="-21.1" y="5.9" width="5.4" height="10.1" rx="0.5"/><rect x="-15.3" y="4.9" width="5.6" height="12.6" rx="0.8"/><path d="M-9.7,6.3 Q-4,5.2 0.5,6.6 L5.6,8.3 Q8.7,9.2 8.5,11 Q8.2,12.6 5.5,12.2 L-2.4,10.2"/><path d="M8.6,10.6 L16.2,6 Q18.4,5 19.2,6.6 Q19.9,8.2 17.8,9.4 L7.5,15.4 Q6,16.3 3.6,16.3 L-9.7,16.3"/></g></g>
</g>
<g id="gear7">
<path d="M499.48,849.18 L496.07,862.45 L482.93,862.45 L479.52,849.18 A49.20,49.20 0 0 1 471.85,846.92 L461.80,856.25 L450.75,849.14 L455.06,836.14 A49.20,49.20 0 0 1 449.82,830.09 L436.33,832.50 L430.87,820.55 L441.53,811.94 A49.20,49.20 0 0 1 440.39,804.02 L427.74,798.76 L429.61,785.75 L443.23,784.27 A49.20,49.20 0 0 1 446.56,776.99 L438.76,765.72 L447.36,755.80 L459.62,761.91 A49.20,49.20 0 0 1 466.35,757.58 L465.89,743.89 L478.49,740.19 L485.50,751.96 A49.20,49.20 0 0 1 493.50,751.96 L500.51,740.19 L513.11,743.89 L512.65,757.58 A49.20,49.20 0 0 1 519.38,761.91 L531.64,755.80 L540.24,765.72 L532.44,776.99 A49.20,49.20 0 0 1 535.77,784.27 L549.39,785.75 L551.26,798.76 L538.61,804.02 A49.20,49.20 0 0 1 537.47,811.94 L548.13,820.55 L542.67,832.50 L529.18,830.09 A49.20,49.20 0 0 1 523.94,836.14 L528.25,849.14 L517.20,856.25 L507.15,846.92 A49.20,49.20 0 0 1 499.48,849.18 Z" fill="#83181e" filter="url(#sh)"/>
<circle cx="489.5" cy="801" r="42.2" fill="#8c1f2a" filter="url(#sh2)"/>
<circle cx="489" cy="801" r="34.6" fill="url(#disc)" filter="url(#sh3)"/>
<circle cx="489" cy="801" r="34.4" fill="none" stroke="#fff" stroke-opacity="0.85" stroke-width="0.8"/>
<g transform="translate(489,801)"><g fill="none" stroke="#161616" stroke-width="1.15" stroke-linejoin="round" stroke-linecap="round"><path d="M-9.91,-17.93 L-9.59,-20.47 L-6.61,-20.47 L-6.29,-17.93 A6.20,6.20 0 0 1 -5.19,-17.47 L-3.17,-19.04 L-1.06,-16.93 L-2.63,-14.91 A6.20,6.20 0 0 1 -2.17,-13.81 L0.37,-13.49 L0.37,-10.51 L-2.17,-10.19 A6.20,6.20 0 0 1 -2.63,-9.09 L-1.06,-7.07 L-3.17,-4.96 L-5.19,-6.53 A6.20,6.20 0 0 1 -6.29,-6.07 L-6.61,-3.53 L-9.59,-3.53 L-9.91,-6.07 A6.20,6.20 0 0 1 -11.01,-6.53 L-13.03,-4.96 L-15.14,-7.07 L-13.57,-9.09 A6.20,6.20 0 0 1 -14.03,-10.19 L-16.57,-10.51 L-16.57,-13.49 L-14.03,-13.81 A6.20,6.20 0 0 1 -13.57,-14.91 L-15.14,-16.93 L-13.03,-19.04 L-11.01,-17.47 A6.20,6.20 0 0 1 -9.91,-17.93 Z"/><circle cx="-8.1" cy="-12" r="3.3"/><path d="M2.6,-12.6 A9,9 0 0 1 11.3,-3.8"/><rect x="-9.3" y="-1.5" width="2.4" height="7.2" rx="1.1"/><path d="M-10.6,-0.6 Q-12.3,2.1 -10.6,4.8 Z" fill="#161616"/><rect x="11.6" y="-1.5" width="2.4" height="7.2" rx="1.1"/><path d="M15.2,-0.6 Q16.9,2.1 15.2,4.8 Z" fill="#161616"/><path d="M-4.6,0.6 L-4.6,6.6 Q-4.4,12 2,12 Q8.4,12 8.4,6 L8.4,3.6"/><path d="M-4.6,1.4 Q-3.6,-1.2 1.4,-2.2 L1.9,-3.9 Q3.2,1.2 8.4,3.7"/><ellipse cx="2.1" cy="7.8" rx="2.2" ry="1.25"/><path d="M4.3,7.8 L11.4,6.8 L12.6,5.7"/><path d="M-13.5,21 L-13.5,19 Q-13.4,14.3 -8.8,14.3 L-4.4,14.3"/><path d="M17.6,21 L17.6,19 Q17.5,14.3 12.9,14.3 L8.6,14.3"/><path d="M-2.6,11.4 L-2.6,12.8 L-4.6,14.3 L-0.2,20.6 L2,17.4 L4.2,20.6 L8.6,14.3 L6.6,12.8 L6.6,11.4"/><path d="M-2.6,12.8 L2,17.4 L6.6,12.8"/></g></g>
</g>
<g id="gear8">
<path d="M462.98,967.18 L459.57,980.45 L446.43,980.45 L443.02,967.18 A49.20,49.20 0 0 1 435.35,964.92 L425.30,974.25 L414.25,967.14 L418.56,954.14 A49.20,49.20 0 0 1 413.32,948.09 L399.83,950.50 L394.37,938.55 L405.03,929.94 A49.20,49.20 0 0 1 403.89,922.02 L391.24,916.76 L393.11,903.75 L406.73,902.27 A49.20,49.20 0 0 1 410.06,894.99 L402.26,883.72 L410.86,873.80 L423.12,879.91 A49.20,49.20 0 0 1 429.85,875.58 L429.39,861.89 L441.99,858.19 L449.00,869.96 A49.20,49.20 0 0 1 457.00,869.96 L464.01,858.19 L476.61,861.89 L476.15,875.58 A49.20,49.20 0 0 1 482.88,879.91 L495.14,873.80 L503.74,883.72 L495.94,894.99 A49.20,49.20 0 0 1 499.27,902.27 L512.89,903.75 L514.76,916.76 L502.11,922.02 A49.20,49.20 0 0 1 500.97,929.94 L511.63,938.55 L506.17,950.50 L492.68,948.09 A49.20,49.20 0 0 1 487.44,954.14 L491.75,967.14 L480.70,974.25 L470.65,964.92 A49.20,49.20 0 0 1 462.98,967.18 Z" fill="#0f3960" filter="url(#sh)"/>
<circle cx="453" cy="919" r="42.2" fill="#0f3b64" filter="url(#sh2)"/>
<circle cx="452.5" cy="919" r="34.6" fill="url(#disc)" filter="url(#sh3)"/>
<circle cx="452.5" cy="919" r="34.4" fill="none" stroke="#fff" stroke-opacity="0.85" stroke-width="0.8"/>
<g transform="translate(452.5,919)"><g fill="none" stroke="#2a2a2a" stroke-width="1.15" stroke-linejoin="round" stroke-linecap="round"><path d="M-4.3,-10.8 Q-4,-13.9 -0.7,-13.9 Q2.6,-13.9 2.9,-10.8" fill="#f2f2f2"/><rect x="-11.1" y="-6.2" width="20.2" height="12.2" fill="#fbfbfb"/><rect x="-12.2" y="-10.8" width="23.1" height="4.7" rx="1.6" fill="#808080"/><path d="M-11,-9.6 L9.8,-9.6" stroke="#f0f0f0" stroke-width="0.7"/><path d="M-7.1,-6 L-7.1,6" stroke-width="1.3"/><path d="M-3.1,-6 L-3.1,6" stroke-width="1.3"/><path d="M1,-6 L1,6" stroke-width="1.3"/><path d="M5.1,-6 L5.1,6" stroke-width="1.3"/><path d="M-11.1,6 L9.1,6 L7.6,8.5 L-9.3,8.5 Z" fill="#8a8a8a"/><path d="M-4.6,8.5 L-4.6,10.8 M2.6,8.5 L2.6,10.8" stroke-width="1.4"/><path d="M-19.3,11.2 L17.5,11.2" stroke="#555" stroke-width="1.5"/><path d="M-19.3,14.5 L17.5,14.5" stroke="#222" stroke-width="1.1"/></g></g>
</g>
<text class="t" x="565.6" y="93">Business Development and</text><text class="t" x="565.6" y="117.1">Requirements Analysis</text>
<text class="t" x="379.4" y="179.5" text-anchor="end">Product Design &amp; Methodology</text><text class="i" x="357.6" y="202.8" text-anchor="end">Conceptual Design</text><rect class="d" x="363.1" y="197.8" width="9.2" height="2.4"/><text class="i" x="357.6" y="226.3" text-anchor="end">Design Calculations</text><rect class="d" x="363.1" y="221.4" width="9.2" height="2.4"/><text class="i" x="357.6" y="249.5" text-anchor="end">Hydraulic Design</text><rect class="d" x="363.1" y="244.7" width="9.2" height="2.4"/><text class="i" x="357.6" y="273.4" text-anchor="end">Mechanical Design</text><rect class="d" x="363.1" y="267.3" width="9.2" height="2.4"/>
<text class="t" x="565.6" y="300.6">Analysis and Validation</text><rect class="d" x="570.5" y="322" width="9.3" height="2.4"/><text class="i" x="584.4" y="328.1">Fluid</text><rect class="d" x="570.5" y="344.4" width="9.3" height="2.4"/><text class="i" x="584.4" y="350.7">Structural</text><rect class="d" x="570.5" y="367" width="9.3" height="2.4"/><text class="i" x="584.4" y="372.6">Thermal</text>
<text class="t" x="379.4" y="413.8" text-anchor="end">Product Development</text><text class="i" x="358.2" y="435.9" text-anchor="end">Prototyping Support</text><rect class="d" x="363.1" y="430" width="9.2" height="2.4"/><text class="i" x="358.2" y="459.2" text-anchor="end">Assembly Support</text><rect class="d" x="363.1" y="456.2" width="9.2" height="2.4"/><text class="i" x="358.2" y="482.5" text-anchor="end">Testing Support</text><rect class="d" x="363.1" y="475.6" width="9.2" height="2.4"/><text class="i" x="358.2" y="506.3" text-anchor="end">Performance Troubleshooting</text><rect class="d" x="363.1" y="501.5" width="9.2" height="2.4"/>
<text class="t" x="565.6" y="543.1">Production support</text><rect class="d" x="570.5" y="560.2" width="9.3" height="2.4"/><text class="i" x="584.4" y="568">Regular Production Infrastructure</text><rect class="d" x="570.5" y="582.3" width="9.3" height="2.4"/><text class="i" x="584.4" y="591.2">Production Testbed Infrastructure</text>
<text class="t" x="379.4" y="631.1" text-anchor="end">Marketing Support</text><text class="i" x="358.2" y="654" text-anchor="end">Product Sales and Feedback</text><rect class="d" x="363.1" y="648.7" width="9.2" height="2.4"/><text class="i" x="358.2" y="678" text-anchor="end">Channel Partners Development</text><rect class="d" x="363.1" y="671.2" width="9.2" height="2.4"/><text class="i" x="358.2" y="701.4" text-anchor="end">Training on Pump and Pump Selection</text><rect class="d" x="363.1" y="695.9" width="9.2" height="2.4"/><text class="i" x="358.2" y="724.8" text-anchor="end">Technical Calculations for Marketing</text><rect class="d" x="363.1" y="720.5" width="9.2" height="2.4"/><text class="i" x="358.2" y="748.2" text-anchor="end">Performance Curve Creation</text><rect class="d" x="363.1" y="742.3" width="9.2" height="2.4"/>
<text class="t" x="565.6" y="768.3">Service Support</text><rect class="d" x="570.5" y="783.5" width="9.3" height="2.4"/><text class="i" x="584.4" y="790.2">Onsite Service</text><rect class="d" x="570.5" y="803.5" width="9.3" height="2.4"/><text class="i" x="584.4" y="812.8">Performance Troubleshooting</text><rect class="d" x="570.5" y="826.3" width="9.3" height="2.4"/><text class="i" x="584.4" y="834.5">Documentation and Reporting</text><rect class="d" x="570.5" y="849.1" width="9.3" height="2.4"/><text class="i" x="584.4" y="856.8">Spare Parts Supply</text>
<text class="t" x="379.4" y="897.4" text-anchor="end">Pump Engineering Support</text><text class="i" x="360.4" y="918.1" text-anchor="end">Application Engineering</text><rect class="d" x="363.1" y="915.1" width="9.2" height="2.4"/><text class="i" x="360.4" y="942" text-anchor="end">General Arrangement Drawings</text><rect class="d" x="363.1" y="934.5" width="9.2" height="2.4"/>
</svg></body></html>
